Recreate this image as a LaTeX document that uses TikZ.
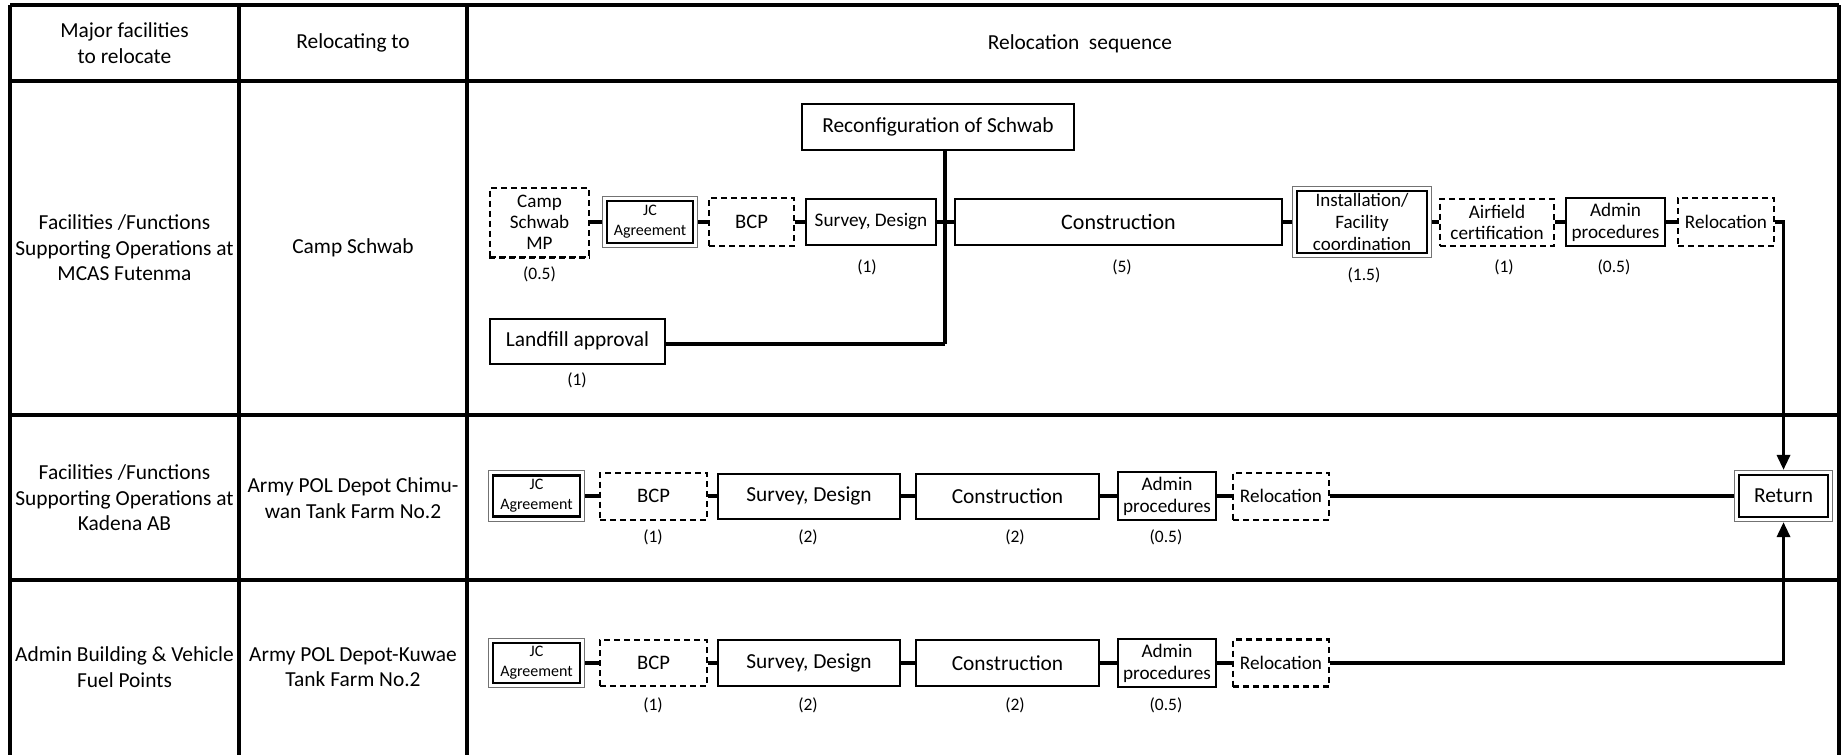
\documentclass[tikz,border=0pt]{standalone}
\usepackage{fontspec}
\setmainfont{Carlito}
\usetikzlibrary{arrows.meta}
\newcommand\fsz[2]{\fontsize{#1}{#2}\selectfont}
\begin{document}
\begin{tikzpicture}[x=1pt,y=-1pt,
  tbl/.style={line width=3.2pt},
  cell/.style={align=center, font=\fsz{21.4}{25.5}, inner sep=0pt},
  bx/.style={draw, line width=2pt, inner sep=0pt, align=center, font=\fsz{19.2}{21.5}},
  dsh/.style={bx, dash pattern=on 6pt off 4pt},
  dbx/.style={bx, line width=2.2pt},
  outer/.style={draw=black!55, line width=1.1pt},
  wh/.style 2 args={minimum width=#1, minimum height=#2},
  big/.style={font=\fsz{21.4}{25}},
  jcf/.style={font=\fsz{16}{20}},
  conn/.style={line width=3.3pt},
  arr/.style={conn, -{Triangle[length=15pt,width=13pt]}, shorten >=4pt},
  dur/.style={font=\fsz{17.5}{20}, inner sep=0pt}]
\useasboundingbox (0,0) rectangle (1841,755);
% table
\draw[tbl] (10,5) -- (1839,5);
\draw[tbl] (10,81) -- (1839,81);
\draw[tbl] (10,415) -- (1839,415);
\draw[tbl] (10,580) -- (1839,580);
\draw[tbl] (10,5) -- (10,755);
\draw[tbl] (239,5) -- (239,755);
\draw[tbl] (467,5) -- (467,755);
\draw[tbl] (1839,5) -- (1839,755);
% header
\node[cell] (hA) at (124.5,43) {Major facilities\\to relocate};
\node[cell] (hB) at (353,43) {Relocating to};
\node[cell] (hC) at (1080,44) {Relocation\ \ sequence};
% row labels
\node[cell] (r1a) at (124.5,248) {Facilities /Functions\\Supporting Operations at\\MCAS Futenma};
\node[cell] (r1b) at (353,248) {Camp Schwab};
\node[cell] (r2a) at (124.5,498) {Facilities /Functions\\Supporting Operations at\\Kadena AB};
\node[cell] (r2b) at (353,498) {Army POL Depot Chimu-\\wan Tank Farm No.2};
\node[cell] (r3a) at (124.5,667) {Admin Building \& Vehicle\\Fuel Points};
\node[cell] (r3b) at (353,667) {Army POL Depot-Kuwae\\Tank Farm No.2};
% row 1
\node[dsh, wh={99pt}{69pt}, font=\fsz{19.1}{21}] (mp) at (539.5,222) {Camp\\Schwab\\MP};
\draw[line width=3pt, dash pattern=on 6pt off 4pt] (mp.south west) -- (mp.south east);
\node[dbx, wh={86pt}{42pt}, jcf] (jc1) at (650,222) {JC\\Agreement};
\node[dsh, wh={85pt}{48pt}, font=\fsz{20.6}{24}, line width=2.4pt] (bcp1) at (751.5,222) {BCP};
\node[bx, wh={130pt}{46pt}, line width=2.3pt] (sur1) at (871,222) {Survey, Design};
\node[bx, wh={327pt}{46pt}, font=\fsz{22}{25}, line width=2.4pt] (con1) at (1118.5,222) {Construction};
\node[dbx, wh={130pt}{62pt}, font=\fsz{19}{21.7}] (ins1) at (1362,222) {Installation/\\Facility\\coordination};
\node[dsh, wh={114pt}{47pt}, font=\fsz{19.2}{21}] (air1) at (1497,222) {Airfield\\certification};
\node[bx, wh={99pt}{48pt}, font=\fsz{19.2}{22}] (adm1) at (1615.5,222) {Admin\\procedures};
\node[dsh, wh={96pt}{48pt}] (rel1) at (1726,222) {Relocation};
\node[bx, wh={272pt}{46pt}, big] (reconf) at (938,127) {Reconfiguration of Schwab};
\node[bx, wh={175pt}{45pt}, big] (land) at (577.5,341) {Landfill approval};
\coordinate (j) at (945,344);
\node[dur] (dmp) at (539.5,274) {(0.5)};
\node[dur] (dsur1) at (867,267) {(1)};
\node[dur] (dcon1) at (1122,267) {(5)};
\node[dur] (dins1) at (1364,275) {(1.5)};
\node[dur] (dair1) at (1504,267) {(1)};
\node[dur] (dadm1) at (1614,267) {(0.5)};
\node[dur] (dland) at (577,380) {(1)};
\draw[conn, shorten >=4pt] (mp) -- (jc1);
\draw[conn, shorten <=4pt] (jc1) -- (bcp1);
\draw[conn] (bcp1) -- (sur1);
\draw[conn] (sur1) -- (con1);
\draw[conn, shorten >=4pt] (con1) -- (ins1);
\draw[conn, shorten <=4pt] (ins1) -- (air1);
\draw[conn] (air1) -- (adm1);
\draw[conn] (adm1) -- (rel1);
\draw[conn] (reconf.south -| j) -- (j);
\draw[conn] (land.east |- j) -- (j);
% return
\node[dbx, wh={89pt}{42pt}, big] (ret) at (1783.5,496) {Return};
\draw[arr] (rel1.east) -- (rel1 -| ret) -- (ret);
% row 2
\node[dbx, wh={87pt}{41pt}, jcf] (jc2) at (536.5,496) {JC\\Agreement};
\node[dsh, wh={107pt}{47pt}, font=\fsz{20.6}{24}] (bcp2) at (653.5,496) {BCP};
\node[bx, wh={182pt}{45pt}, big] (sur2) at (809,496) {Survey, Design};
\node[bx, wh={183pt}{45pt}, big] (con2) at (1007.5,496) {Construction};
\node[bx, wh={98pt}{48pt}, font=\fsz{19.2}{22}] (adm2) at (1167,496) {Admin\\procedures};
\node[dsh, wh={96pt}{47pt}] (rel2) at (1281,496) {Relocation};
\node[dur] (dbcp2) at (653,537) {(1)};
\node[dur] (dsur2) at (808,537) {(2)};
\node[dur] (dcon2) at (1015,537) {(2)};
\node[dur] (dadm2) at (1166,537) {(0.5)};
\draw[conn, shorten <=4pt] (jc2) -- (bcp2);
\draw[conn] (bcp2) -- (sur2);
\draw[conn] (sur2) -- (con2);
\draw[conn] (con2) -- (adm2);
\draw[conn] (adm2) -- (rel2);
\draw[conn, shorten >=4pt] (rel2) -- (ret);
% row 3
\node[dbx, wh={87pt}{40pt}, jcf] (jc3) at (536.5,663) {JC\\Agreement};
\node[dsh, wh={107pt}{46pt}, font=\fsz{20.6}{24}, line width=2.3pt] (bcp3) at (653.5,663) {BCP};
\node[bx, wh={182pt}{46pt}, big, line width=2.3pt] (sur3) at (809,663) {Survey, Design};
\node[bx, wh={183pt}{46pt}, big, line width=2.3pt] (con3) at (1007.5,663) {Construction};
\node[bx, wh={98pt}{48pt}, font=\fsz{19.2}{22}] (adm3) at (1167,663) {Admin\\procedures};
\node[dsh, wh={96pt}{47pt}, line width=2.3pt] (rel3) at (1281,663) {Relocation};
\node[dur] (dbcp3) at (653,705) {(1)};
\node[dur] (dsur3) at (808,705) {(2)};
\node[dur] (dcon3) at (1015,705) {(2)};
\node[dur] (dadm3) at (1166,705) {(0.5)};
\draw[conn, shorten <=4pt] (jc3) -- (bcp3);
\draw[conn] (bcp3) -- (sur3);
\draw[conn] (sur3) -- (con3);
\draw[conn] (con3) -- (adm3);
\draw[conn] (adm3) -- (rel3);
\draw[arr] (rel3.east) -- (rel3 -| ret) -- (ret);
% outer thin frames of the double-framed boxes
\foreach \n in {jc1,ins1,ret,jc2,jc3}
  \draw[outer] ([shift={(-3.8pt,3.8pt)}]\n.north west) rectangle ([shift={(3.8pt,-3.8pt)}]\n.south east);
\end{tikzpicture}
\end{document}
